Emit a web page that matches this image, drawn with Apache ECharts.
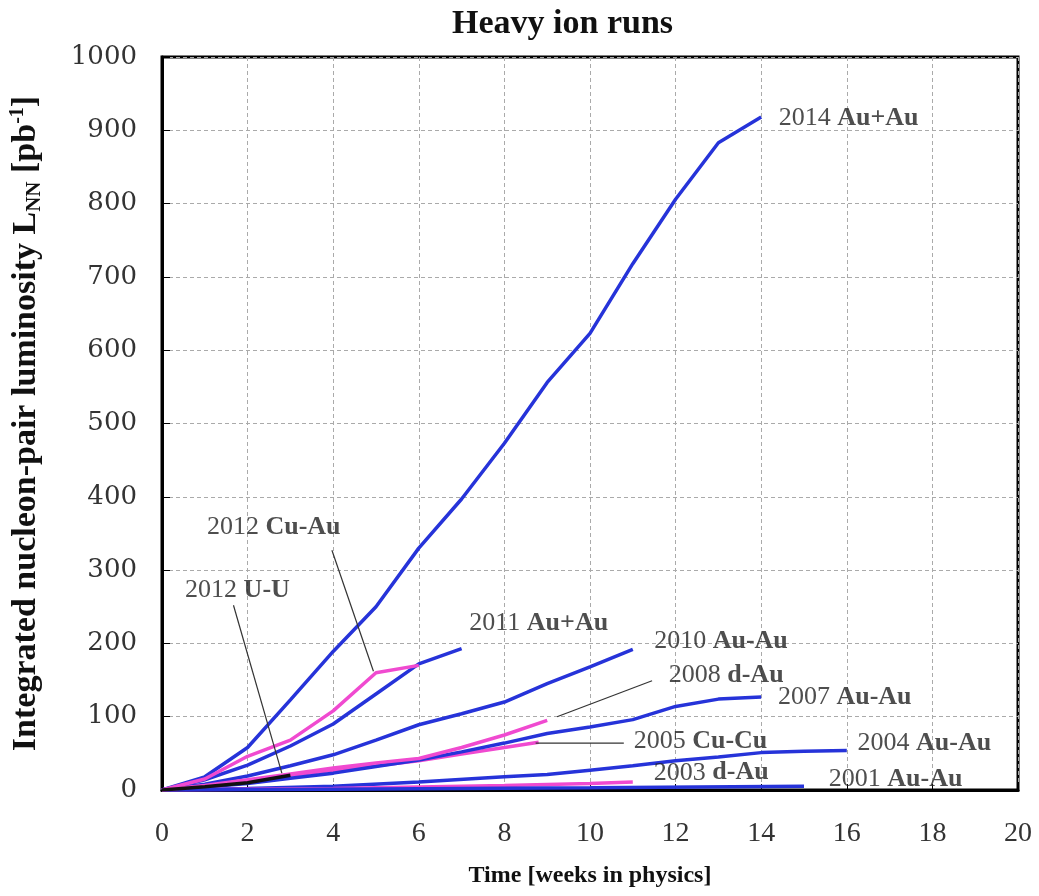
<!DOCTYPE html>
<html><head><meta charset="utf-8">
<script src="https://cdn.jsdelivr.net/npm/echarts@6/dist/echarts.min.js"></script>
<style>html,body{margin:0;padding:0;background:#fff}#chart{width:1039px;height:896px}</style>
</head><body><div id="chart"></div>
<script>
// ---- data: [week, integrated L_NN (pb^-1)] ----
const run2014AuAu = [[0,0],[1,18],[2,58],[3,123],[4,189],[5,250],[6,330],[7,397],[8,473],[9,556],[10,623],[11,718],[12,806],[13,883],[14,918]];
const run2012CuAu = [[0,0],[1,15],[2,46],[3,68],[4,108],[5,160],[6,170]];
const run2012UU   = [[0,0],[1,4.5],[2,10],[3,20]];
const run2011AuAu = [[0,0],[1,14],[2,34],[3,60],[4,90],[5,131],[6,172],[7,193]];
const run2010AuAu = [[0,0],[1,8],[2,19],[3,33],[4,48],[5,68],[6,89],[7,104],[8,120],[9,145],[10,168],[11,192]];
const run2008dAu  = [[0,0],[1,6],[2,14],[3,22],[4,30],[5,37],[6,43],[7,58],[8,75],[9,95]];
const run2007AuAu = [[0,0],[1,4],[2,9],[3,16],[4,23],[5,32],[6,41],[7,52],[8,64],[9,77],[10,86],[11,96],[12,114],[13,124],[14,127]];
const run2005CuCu = [[0,0],[1,5],[2,12],[3,20],[4,27],[5,33],[6,40],[7,49],[8,58],[8.8,65]];
const run2004AuAu = [[0,0],[2,2],[4,5],[6,11],[8,18],[9,21],[10,27],[11,33],[12,40],[13,45],[14,51],[15,53],[16,54]];
const run2003dAu  = [[0,0],[2,1],[4,2],[6,4],[8,6],[10,9],[11,11]];
const run2001AuAu = [[0,0],[5,1.5],[10,3],[15,5]];

const xTicks = [0,2,4,6,8,10,12,14,16,18,20];
const yTicks = [0,100,200,300,400,500,600,700,800,900,1000];

// labels: [year, species, week, L]
const runLabels = [
  ['2014','Au+Au',14.41,917],
  ['2011','Au+Au',7.18,228],
  ['2010','Au-Au',11.5,203],
  ['2008','d-Au',11.84,157],
  ['2007','Au-Au',14.39,126],
  ['2005','Cu-Cu',11.02,66],
  ['2004','Au-Au',16.25,64],
  ['2003','d-Au',11.49,23.6],
  ['2001','Au-Au',15.58,14.6],
  ['2012','Cu-Au',1.05,359],
  ['2012','U-U',0.54,272.5]
];
// pointer lines from label to curve
const pointers = [
  [[3.97,327],[4.94,162]],
  [[1.67,252],[2.8,23]],
  [[11.45,149],[9.23,100]],
  [[10.79,64],[8.73,64]]
];

const BLUE = '#2633d9';
const PINK = '#f04ad0';
const BLACK = '#111';
const serif = 'Liberation Serif';

function line(name, data, color, z) {
  return {name, type:'line', data, symbol:'none', smooth:false, z: z||2,
    lineStyle:{color, width:3.5}, itemStyle:{color}};
}

const series = [
  line('2005 Cu-Cu', run2005CuCu, PINK, 2),
  line('2014 Au+Au', run2014AuAu, BLUE, 3),
  line('2011 Au+Au', run2011AuAu, BLUE, 3),
  line('2010 Au-Au', run2010AuAu, BLUE, 3),
  line('2007 Au-Au', run2007AuAu, BLUE, 3),
  line('2004 Au-Au', run2004AuAu, BLUE, 3),
  line('2003 d-Au', run2003dAu, PINK, 3),
  line('2001 Au-Au', run2001AuAu, BLUE, 3),
  line('2012 Cu-Au', run2012CuAu, PINK, 4),
  line('2008 d-Au', run2008dAu, PINK, 4),
  line('2012 U-U', run2012UU, BLACK, 5)
];
pointers.forEach(p => series.push({type:'line', data:p, symbol:'none', z:6,
  lineStyle:{color:'#333', width:1.2}, silent:true}));
series.push({
  type:'scatter', symbolSize:0, z:7, silent:true,
  data: runLabels.map(l => ({value:[l[2], l[3]], label:{formatter:'{y|' + l[0] + ' }{s|' + l[1] + '}'}})),
  label:{show:true, position:'right', distance:0,
    rich:{
      y:{fontFamily:serif, fontSize:26, color:'#222'},
      s:{fontFamily:serif, fontSize:26, fontWeight:'bold', color:'#222'}
    }}
});

const chart = echarts.init(document.getElementById('chart'), null, {renderer:'canvas'});
chart.setOption({
  animation:false,
  backgroundColor:'#fff',
  title:{text:'Heavy ion runs', left:447, top:2,
    textStyle:{fontFamily:serif, fontWeight:'bold', fontSize:34, color:'#111'}},
  grid:{left:162, right:21, top:57, bottom:106, show:true, borderColor:'#000', borderWidth:3},
  xAxis:{type:'value', min:0, max:20, interval:2,
    name:'Time [weeks in physics]', nameLocation:'middle', nameGap:74,
    nameTextStyle:{fontFamily:serif, fontWeight:'bold', fontSize:24, color:'#111'},
    axisLine:{show:true, lineStyle:{color:'#000', width:3}},
    axisTick:{show:true, inside:true, length:6, lineStyle:{color:'#000'}},
    axisLabel:{fontFamily:serif, fontSize:28, color:'#333', margin:30,
      formatter: v => xTicks.includes(v) ? String(v) : ''},
    splitLine:{show:true, lineStyle:{color:'#aaa', type:[4,3], width:1}}
  },
  yAxis:{type:'value', min:0, max:1000, interval:100,
    name:'Integrated nucleon-pair luminosity L{sub|NN} [pb{sup|-1}]', nameLocation:'middle', nameGap:117,
    nameTextStyle:{fontFamily:serif, fontWeight:'bold', fontSize:34, color:'#111',
      rich:{sub:{fontFamily:serif, fontWeight:'bold', fontSize:21, color:'#111', verticalAlign:'bottom', padding:[16,0,0,0]},
            sup:{fontFamily:serif, fontWeight:'bold', fontSize:20, color:'#111', verticalAlign:'top', padding:[0,0,14,0]}}},
    axisLine:{show:true, lineStyle:{color:'#000', width:3}},
    axisTick:{show:true, inside:true, length:8, lineStyle:{color:'#000'}},
    axisLabel:{fontFamily:'DejaVu Serif', fontSize:26, color:'#333', margin:25,
      formatter: v => yTicks.includes(v) ? String(v) : ''},
    splitLine:{show:true, lineStyle:{color:'#aaa', type:[4,3], width:1}}
  },
  series
});
</script></body></html>
